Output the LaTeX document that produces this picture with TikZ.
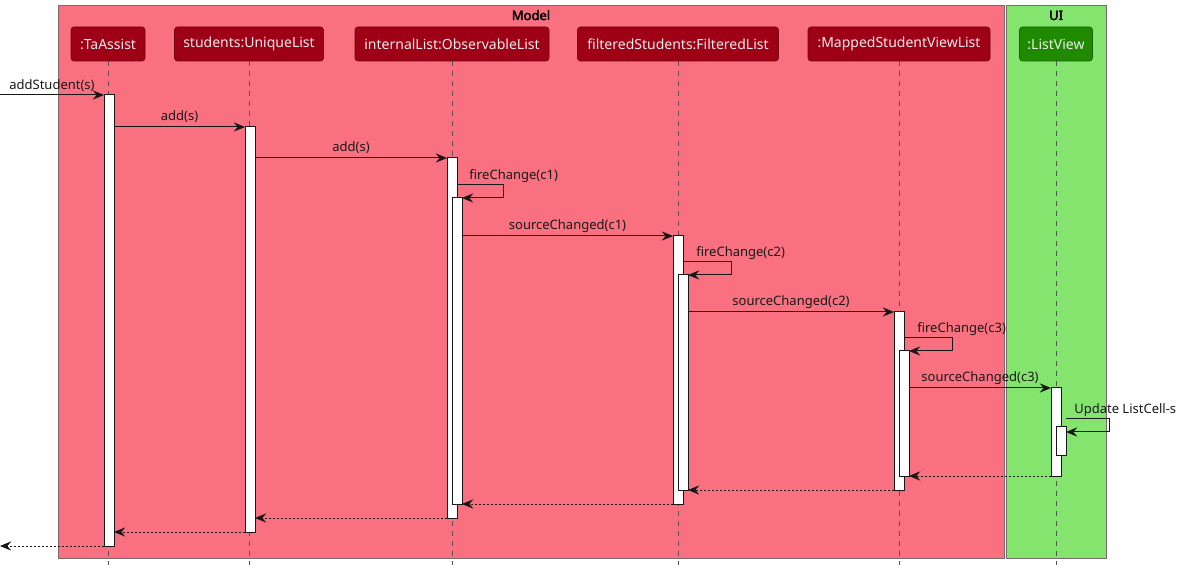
\documentclass[tikz,border=0pt]{standalone}
\usepackage{fontspec}
\setmainfont{Noto Sans}[AutoFakeBold=2.5]
\usetikzlibrary{arrows.meta,calc}
\definecolor{modelbg}{HTML}{F97181}
\definecolor{modelhd}{HTML}{9E0015}
\definecolor{uibg}{HTML}{84E56E}
\definecolor{uihd}{HTML}{1F8A00}
\definecolor{framegray}{HTML}{7A6A6A}
\definecolor{lifegray}{HTML}{555555}
\definecolor{ink}{HTML}{181818}
\tikzset{
  group/.style={draw=framegray, line width=0.75pt},
  grouplabel/.style={font=\bfseries\fontsize{9.75}{12}\selectfont, inner sep=0pt, anchor=base, text=black},
  head/.style={rounded corners=2.25pt, minimum height=25.5pt, inner sep=0pt, line width=0.5pt,
    text=white!93!black, font=\fontsize{10.5}{12}\selectfont},
  mhead/.style={head, fill=modelhd, draw=modelhd!70!black},
  uhead/.style={head, fill=uihd, draw=uihd!70!black},
  lifeline/.style={draw=lifegray, line width=0.6pt, dash pattern=on 3.75pt off 3.75pt},
  act/.style={draw=ink, fill=white, line width=0.75pt, minimum width=7.5pt, inner sep=0pt, outer sep=0pt, anchor=north west},
  msg/.style={draw=ink, line width=0.75pt, -{Stealth[length=8.5pt,width=7pt,inset=3pt]}},
  ret/.style={msg, dash pattern=on 1.5pt off 1.5pt},
  lbl/.style={font=\fontsize{9.75}{12}\selectfont, inner sep=0pt, anchor=base, text=ink},
}
\begin{document}
\begin{tikzpicture}[x=0.75pt,y=-0.75pt]
\useasboundingbox (0,0) rectangle (1179,570);
% groups
\path[group, fill=modelbg] (58,6) rectangle (1004,558);
\path[group, fill=uibg] (1006,6) rectangle (1106,558);
\node[grouplabel] (gmodel) at (531,20) {Model};
\node[grouplabel] (gui) at (1056,20) {UI};
% heads
\node[mhead, minimum width=55.5pt] (h1) at (108,44) {:TaAssist};
\node[mhead, minimum width=111.75pt] (h2) at (249,44) {students:UniqueList};
\node[mhead, minimum width=145.5pt] (h3) at (452,44) {internalList:ObservableList};
\node[mhead, minimum width=150.75pt] (h4) at (678,44) {filteredStudents:FilteredList};
\node[mhead, minimum width=136.5pt] (h5) at (899,44) {:MappedStudentViewList};
\node[uhead, minimum width=54.75pt] (h6) at (1056,44) {:ListView};
\coordinate (bottom) at (0,565);
\foreach \h in {h1,h2,h3,h4,h5,h6}{
  \draw[lifeline] (\h.south) -- (\h.south |- bottom);
}
% activation bars
\node[act, minimum height=338.25pt] (a1) at (104,95) {};
\node[act, minimum height=303.75pt] (a2) at (245,127) {};
\node[act, minimum height=270pt] (a3) at (447,158) {};
\node[act, minimum height=229.5pt] (a3b) at (452,198) {};
\node[act, minimum height=201pt] (a4) at (673,236) {};
\node[act, minimum height=161.25pt] (a4b) at (678,275) {};
\node[act, minimum height=133.5pt] (a5) at (894,312) {};
\node[act, minimum height=93.75pt] (a5b) at (899,351) {};
\node[act, minimum height=66pt] (a6) at (1051,388) {};
\node[act, minimum height=21pt] (a6b) at (1056,427) {};
\coordinate (entry) at (0,95);
\coordinate (exit) at (0,546);
% calls
\draw[msg] (entry) -- (a1.north west) node[lbl, midway, yshift=3.75pt] {addStudent(s)};
\draw[msg] (a1.east |- a2.north) -- (a2.north west) node[lbl, midway, yshift=4.5pt] {add(s)};
\draw[msg] (a2.east |- a3.north) -- (a3.north west) node[lbl, midway, yshift=4.5pt] {add(s)};
\draw[msg] ($(a3.east |- a3b.north)+(0,-13)$) -- ++(46,0) |- (a3b.north east);
\node[lbl, anchor=base west] (l1) at ($(a3.east |- a3b.north)+(12,-18)$) {fireChange(c1)};
\draw[msg] (a3b.east |- a4.north) -- (a4.north west) node[lbl, midway, yshift=4.5pt] {sourceChanged(c1)};
\draw[msg] ($(a4.east |- a4b.north)+(0,-13)$) -- ++(48,0) |- (a4b.north east);
\node[lbl, anchor=base west] (l2) at ($(a4.east |- a4b.north)+(13,-18)$) {fireChange(c2)};
\draw[msg] (a4b.east |- a5.north) -- (a5.north west) node[lbl, midway, yshift=4.5pt] {sourceChanged(c2)};
\draw[msg] ($(a5.east |- a5b.north)+(0,-13)$) -- ++(48,0) |- (a5b.north east);
\node[lbl, anchor=base west] (l3) at ($(a5.east |- a5b.north)+(13,-18)$) {fireChange(c3)};
\draw[msg] (a5b.east |- a6.north) -- (a6.north west) node[lbl, midway, yshift=4.5pt] {sourceChanged(c3)};
\draw[msg] ($(a6b.north east)+(0,-8)$) -- ++(43,0) |- ($(a6b.north east)+(0,5)$);
\node[lbl, anchor=base west] (l4) at ($(a6b.north east)+(8,-13)$) {Update ListCell-s};
% returns
\draw[ret] (a6.south west) -- (a6.south -| a5b.east);
\draw[ret] (a5.south west) -- (a5.south -| a4b.east);
\draw[ret] (a4.south west) -- (a4.south -| a3b.east);
\draw[ret] (a3.south west) -- (a3.south -| a2.east);
\draw[ret] (a2.south west) -- (a2.south -| a1.east);
\draw[ret] (a1.south west) -- (exit);
\end{tikzpicture}
\end{document}
